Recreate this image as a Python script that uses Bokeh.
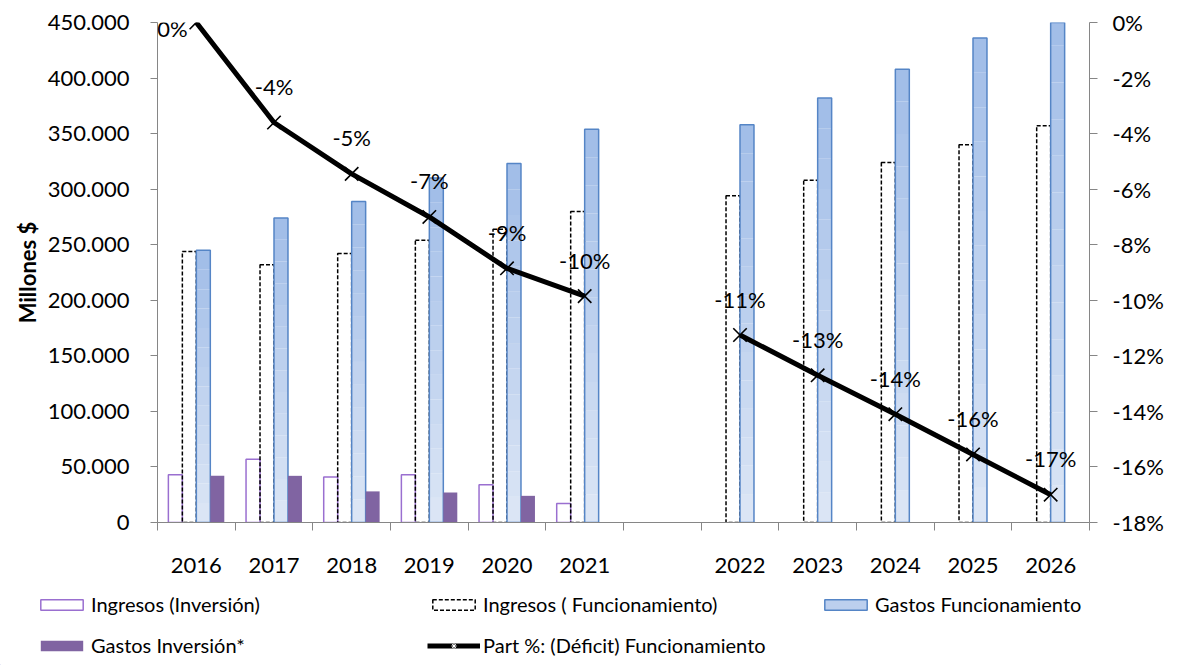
import math
from bokeh.plotting import figure
from bokeh.models import (Range1d, LinearAxis, FixedTicker, ColumnDataSource,
                          Legend, LegendItem, LabelSet)
from bokeh.core.properties import value
from bokeh.embed import file_html
from bokeh.resources import INLINE

# ---------------- data ----------------
categories = ["2016", "2017", "2018", "2019", "2020", "2021", "",
              "2022", "2023", "2024", "2025", "2026"]
ingresos_inversion = [43000, 57000, 41000, 43000, 34000, 17000, None,
                      0, 0, 0, 0, 0]
ingresos_funcionamiento = [244000, 232000, 242000, 254000, 264000, 280000, None,
                           294000, 308000, 324000, 340000, 357000]
gastos_funcionamiento = [245000, 274000, 289000, 310000, 323000, 354000, None,
                         358000, 382000, 408000, 436000, 462000]
gastos_inversion = [42000, 42000, 28000, 27000, 24000, 0, None,
                    0, 0, 0, 0, 0]
part_deficit = [0.0, -3.6, -5.45, -7.0, -8.85, -9.85, None,
                -11.25, -12.7, -14.1, -15.55, -17.0]
part_labels = ["0%", "-4%", "-5%", "-7%", "-9%", "-10%", "",
               "-11%", "-13%", "-14%", "-16%", "-17%"]
left_ticks = [0, 50000, 100000, 150000, 200000, 250000, 300000, 350000, 400000, 450000]
left_tick_labels = ["0", "50.000", "100.000", "150.000", "200.000", "250.000",
                    "300.000", "350.000", "400.000", "450.000"]
right_ticks = [0, -2, -4, -6, -8, -10, -12, -14, -16, -18]
right_tick_labels = ["0%", "-2%", "-4%", "-6%", "-8%", "-10%", "-12%", "-14%", "-16%", "-18%"]
legend_labels = ["Ingresos (Inversión)", "Ingresos ( Funcionamiento)", "Gastos Funcionamiento",
                 "Gastos Inversión*", "Part %: (Déficit) Funcionamiento"]

# ---------------- style ----------------
FONT = "Lato"
AXIS_COLOR = "#868686"
PURPLE_LINE = "#9a6fd0"
PURPLE_FILL = "#8064a2"
BLUE_LINE = "#5585c6"
BLUE_MID = "#bccfee"
BLUE_TOP = (0xa0, 0xbc, 0xe7)
BLUE_BOTTOM = (0xdd, 0xe7, 0xf6)
BAR_W = 0.18

n = len(categories)
centers = [i + 0.5 for i in range(n)]

p = figure(width=1178, height=585, output_backend="svg", toolbar_location=None,
           x_range=Range1d(0, n), y_range=Range1d(0, 450000),
           min_border_left=157, min_border_right=89, min_border_top=22,
           min_border_bottom=63)
p.extra_y_ranges = {"pct": Range1d(-18, 0)}
p.xgrid.visible = False
p.ygrid.visible = False
p.outline_line_color = None
p.background_fill_color = "white"
p.border_fill_color = "white"


def pick(vals, offset):
    xs, tops = [], []
    for c, v in zip(centers, vals):
        if v is not None and v > 0:
            xs.append(c + offset)
            tops.append(v)
    return xs, tops


# Ingresos (Inversión)
x1, t1 = pick(ingresos_inversion, -1.5 * BAR_W)
p.vbar(x=x1, top=t1, bottom=0, width=BAR_W, fill_color=None,
       line_color=PURPLE_LINE, line_width=1.5)

# Ingresos ( Funcionamiento)
x2, t2 = pick(ingresos_funcionamiento, -0.5 * BAR_W)
p.vbar(x=x2, top=t2, bottom=0, width=BAR_W, fill_color=None,
       line_color="black", line_width=1.5, line_dash="4 2")

# Gastos Funcionamiento (vertical gradient via bands)
x3, t3 = pick(gastos_funcionamiento, 0.5 * BAR_W)
NB = 14
for k in range(NB):
    f = (k + 0.5) / NB
    col = tuple(int(round(BLUE_BOTTOM[j] + (BLUE_TOP[j] - BLUE_BOTTOM[j]) * f)) for j in range(3))
    hexcol = "#%02x%02x%02x" % col
    p.vbar(x=x3, bottom=[v * k / NB for v in t3], top=[v * (k + 1) / NB for v in t3],
           width=BAR_W, fill_color=hexcol, line_color=None)
p.vbar(x=x3, top=t3, bottom=0, width=BAR_W, fill_color=None,
       line_color=BLUE_LINE, line_width=1.5)

# Gastos Inversión*
x4, t4 = pick(gastos_inversion, 1.5 * BAR_W)
p.vbar(x=x4, top=t4, bottom=0, width=BAR_W, fill_color=PURPLE_FILL, line_color=None)

# Part %: (Déficit) Funcionamiento
line_y = [v if v is not None else math.nan for v in part_deficit]
p.line(x=centers, y=line_y, y_range_name="pct", line_color="black", line_width=5)
mx = [c for c, v in zip(centers, part_deficit) if v is not None]
my = [v for v in part_deficit if v is not None]
p.scatter(x=mx, y=my, y_range_name="pct", marker="x", size=19,
          line_color="black", line_width=1.6)

# data labels
lab_x, lab_y, lab_t, lab_xo, lab_yo = [], [], [], [], []
for c, v, t in zip(centers, part_deficit, part_labels):
    if v is None:
        continue
    lab_x.append(c)
    lab_y.append(v)
    lab_t.append(t)
    if v == 0:
        lab_xo.append(-24)
        lab_yo.append(-6)
    else:
        lab_xo.append(0)
        lab_yo.append(36)
lab_src = ColumnDataSource(dict(x=lab_x, y=lab_y, text=lab_t, xo=lab_xo, yo=lab_yo))
labels = LabelSet(x="x", y="y", text="text", source=lab_src, y_range_name="pct",
                  x_offset="xo", y_offset="yo", text_align="center",
                  text_baseline="middle", text_font=value(FONT), text_font_size="22px",
                  text_color="black")
p.add_layout(labels)

# ---------------- axes ----------------
xa = p.xaxis[0]
xa.ticker = FixedTicker(ticks=centers, minor_ticks=list(range(n + 1)))
xa.major_label_overrides = {c: lab for c, lab in zip(centers, categories)}
xa.major_tick_out = 0
xa.major_tick_in = 0
xa.minor_tick_out = 8
xa.minor_tick_in = 0
xa.minor_tick_line_color = AXIS_COLOR
xa.axis_line_color = AXIS_COLOR
xa.major_label_standoff = 27
xa.major_label_text_font = FONT
xa.major_label_text_font_size = "22px"
xa.major_label_text_color = "black"

ya = p.yaxis[0]
ya.ticker = FixedTicker(ticks=left_ticks)
ya.major_label_overrides = {t: l for t, l in zip(left_ticks, left_tick_labels)}
ya.major_tick_out = 7
ya.major_tick_in = 0
ya.minor_tick_out = 0
ya.minor_tick_in = 0
ya.minor_tick_line_color = None
ya.axis_line_color = AXIS_COLOR
ya.major_tick_line_color = AXIS_COLOR
ya.major_label_standoff = 21
ya.major_label_text_font = FONT
ya.major_label_text_font_size = "22px"
ya.major_label_text_color = "black"
ya.axis_label = "Millones $"
ya.axis_label_text_font = FONT
ya.axis_label_text_font_size = "22px"
ya.axis_label_text_font_style = "bold"
ya.axis_label_text_color = "black"
ya.axis_label_standoff = 4

ra = LinearAxis(y_range_name="pct", ticker=FixedTicker(ticks=right_ticks))
ra.major_label_overrides = {t: l for t, l in zip(right_ticks, right_tick_labels)}
ra.major_tick_out = 8
ra.major_tick_in = 0
ra.minor_tick_out = 0
ra.minor_tick_in = 0
ra.minor_tick_line_color = None
ra.axis_line_color = AXIS_COLOR
ra.major_tick_line_color = AXIS_COLOR
ra.major_label_standoff = 15
ra.major_label_text_font = FONT
ra.major_label_text_font_size = "22px"
ra.major_label_text_color = "black"
p.add_layout(ra, "right")

# ---------------- legend (separate strip, separate root) ----------------
pl = figure(width=1178, height=80, output_backend="svg", toolbar_location=None,
            x_range=Range1d(0, 1), y_range=Range1d(0, 1),
            min_border_left=0, min_border_right=0, min_border_top=0, min_border_bottom=0)
pl.axis.visible = False
pl.xgrid.visible = False
pl.ygrid.visible = False
pl.outline_line_color = None
pl.background_fill_color = "white"
pl.border_fill_color = "white"


def proxy():
    # legend proxies placed outside the visible range
    return ColumnDataSource(dict(x=[-5], top=[-4], bottom=[-5], y=[-5]))


g1 = pl.vbar(source=proxy(), x="x", top="top", bottom="bottom", width=0.1,
             fill_color=None, line_color=PURPLE_LINE, line_width=1.5)
g2 = pl.vbar(source=proxy(), x="x", top="top", bottom="bottom", width=0.1,
             fill_color=None, line_color="black", line_width=1.5, line_dash="4 2")
g3 = pl.vbar(source=proxy(), x="x", top="top", bottom="bottom", width=0.1,
             fill_color=BLUE_MID, line_color=BLUE_LINE, line_width=1.5)
g4 = pl.vbar(source=proxy(), x="x", top="top", bottom="bottom", width=0.1,
             fill_color=PURPLE_FILL, line_color=None)
g5 = pl.line(source=proxy(), x="x", y="y", line_color="black", line_width=5)
g6 = pl.scatter(source=proxy(), x="x", y="y", marker="asterisk", size=12,
                line_color="white", line_width=1)

legend = Legend(items=[
    LegendItem(label=legend_labels[0], renderers=[g1]),
    LegendItem(label=legend_labels[1], renderers=[g2]),
    LegendItem(label=legend_labels[2], renderers=[g3]),
    LegendItem(label=legend_labels[3], renderers=[g4]),
    LegendItem(label=legend_labels[4], renderers=[g5, g6]),
], location=(35, 8), orientation="horizontal", ncols=3)
legend.glyph_width = 53
legend.glyph_height = 13
legend.label_height = 13
legend.label_standoff = 3
legend.label_width = 319
legend.spacing = 17
legend.padding = 0
legend.margin = 0
legend.border_line_color = None
legend.background_fill_alpha = 0
legend.label_text_font = FONT
legend.label_text_font_size = "20px"
legend.label_text_color = "black"
pl.add_layout(legend)

open("out.html", "w").write(file_html([p, pl], INLINE))
